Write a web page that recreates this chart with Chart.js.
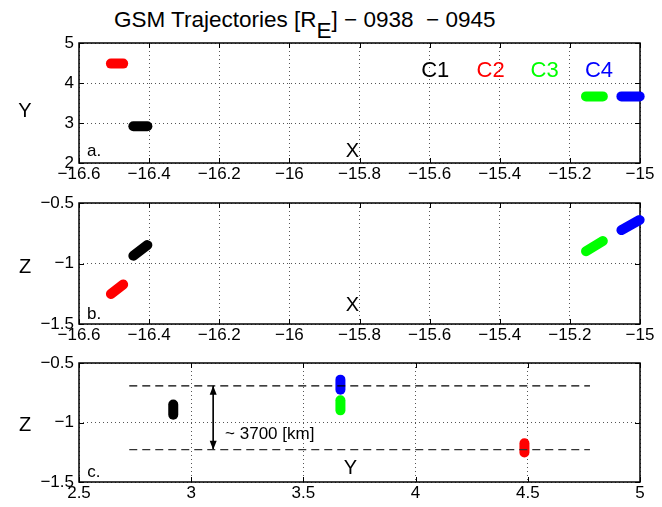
<!DOCTYPE html>
<html>
<head>
<meta charset="utf-8">
<script src="https://cdn.jsdelivr.net/npm/chart.js@4.4.1/dist/chart.umd.min.js"></script>
<style>
  html, body { margin: 0; padding: 0; background: #fff; }
  body { width: 662px; height: 507px; position: relative; overflow: hidden; font-family: "Liberation Sans", Arial, sans-serif; }
  canvas { position: absolute; left: 0; }
  #title { position: absolute; left: 114px; top: 9px; font-size: 22.5px; line-height: 22px; white-space: pre; color: #000; }
  #title sub { font-size: 22.5px; vertical-align: -11px; line-height: 0; }
</style>
</head>
<body>
<div id="title">GSM Trajectories [R<sub>E</sub>] − 0938  − 0945</div>
<canvas id="pa" width="662" height="188" style="top:0px"></canvas>
<canvas id="pb" width="662" height="189" style="top:160px"></canvas>
<canvas id="pc" width="662" height="187" style="top:320px"></canvas>
<script>
// GSM positions [RE], start / end of the 0938-0945 interval
var c1X = [-16.445, -16.405], c1Y = [2.92, 2.92],   c1Z = [-0.935, -0.848];
var c2X = [-16.509, -16.474], c2Y = [4.485, 4.485], c2Z = [-1.252, -1.174];
var c3X = [-15.154, -15.106], c3Y = [3.665, 3.665], c3Z = [-0.898, -0.814];
var c4X = [-15.053, -15.001], c4Y = [3.665, 3.665], c4Z = [-0.724, -0.640];
var names = ['C1', 'C2', 'C3', 'C4'];
var colors = ['#000000', '#ff0000', '#00ff00', '#0000ff'];

// separation guide (panel c)
var sepY = [2.724, 4.777];
var sepZ = [-0.692, -1.228];
var arrowY = 3.098;
var sepText = '~ 3700 [km]';

// axis ranges [min, max, step]
var xRange = [-16.6, -15, 0.2];
var yRange = [2, 5, 1];
var zRange = [-1.5, -0.5, 0.5];
var yRangeC = [2.5, 5, 0.5];

var FONT = '"Liberation Sans", Arial, Helvetica, sans-serif';

function pts(xs, ys) {
    return xs.map(function(x, i){ return {x: x, y: ys[i]}; });
}
function fmt(v) {
    return String(+(+v).toFixed(2)).replace('-', '\u2212');
}
function track(xs, ys, col) {
    return {data: pts(xs, ys), borderColor: col, backgroundColor: col, borderWidth: 10,
            borderCapStyle: 'round', pointRadius: 0, showLine: true, clip: false};
}
function axis(r, pos) {
    return {
        type: 'linear', position: pos, min: r[0], max: r[1],
        grid: {color: '#555', lineWidth: 1, drawTicks: false},
        border: {display: false, dash: [1, 3]},
        ticks: {stepSize: r[2], autoSkip: false, maxRotation: 0, color: '#000',
                font: {family: FONT, size: 17}, padding: pos == 'left' ? 5 : 1,
                callback: function(v){ return fmt(v); }},
        afterFit: function(s){ if (pos == 'left') s.width = 79; else s.height = 25; }
    };
}

// frame, inward tick marks, texts and arrow heads
var marks = {
    id: 'marks',
    beforeDatasetsDraw: function(chart) {
        var ctx = chart.ctx, a = chart.chartArea, sx = chart.scales.x, sy = chart.scales.y;
        ctx.save();
        ctx.strokeStyle = '#000';
        ctx.lineWidth = 1;
        ctx.beginPath();
        sx.ticks.forEach(function(t){
            var p = Math.round(sx.getPixelForValue(t.value)) + 0.5;
            ctx.moveTo(p, a.bottom); ctx.lineTo(p, a.bottom - 5);
            ctx.moveTo(p, a.top); ctx.lineTo(p, a.top + 5);
        });
        sy.ticks.forEach(function(t){
            var p = Math.round(sy.getPixelForValue(t.value)) + 0.5;
            ctx.moveTo(a.left, p); ctx.lineTo(a.left + 5, p);
            ctx.moveTo(a.right, p); ctx.lineTo(a.right - 5, p);
        });
        ctx.stroke();
        ctx.lineWidth = 1.5;
        ctx.strokeRect(a.left, a.top, a.right - a.left, a.bottom - a.top);
        ctx.restore();
    },
    afterDatasetsDraw: function(chart, args, opts) {
        var ctx = chart.ctx, sx = chart.scales.x, sy = chart.scales.y;
        ctx.save();
        (opts.texts || []).forEach(function(t){
            ctx.font = (t.size || 17) + 'px ' + FONT;
            ctx.fillStyle = t.color || '#000';
            ctx.textAlign = t.align || 'center';
            ctx.textBaseline = 'middle';
            var px = t.px !== undefined ? t.px : sx.getPixelForValue(t.x);
            ctx.fillText(t.t, px, sy.getPixelForValue(t.y));
        });
        if (opts.arrow) {
            var x = sx.getPixelForValue(opts.arrow.x);
            var y0 = sy.getPixelForValue(opts.arrow.z[0]);
            var y1 = sy.getPixelForValue(opts.arrow.z[1]);
            ctx.fillStyle = '#000';
            ctx.beginPath();
            ctx.moveTo(x, y0); ctx.lineTo(x - 3.5, y0 + 9); ctx.lineTo(x + 3.5, y0 + 9); ctx.closePath();
            ctx.moveTo(x, y1); ctx.lineTo(x - 3.5, y1 - 9); ctx.lineTo(x + 3.5, y1 - 9); ctx.closePath();
            ctx.fill();
        }
        ctx.restore();
    }
};

function makePanel(id, datasets, xr, yr, texts, arrow) {
    return new Chart(document.getElementById(id), {
        type: 'scatter',
        data: {datasets: datasets},
        options: {
            responsive: false, animation: false, events: [],
            layout: {padding: {top: 43, right: 22, left: 0, bottom: 0}},
            scales: {x: axis(xr, 'bottom'), y: axis(yr, 'left')},
            plugins: {legend: {display: false}, tooltip: {enabled: false},
                      marks: {texts: texts, arrow: arrow}}
        },
        plugins: [marks]
    });
}

var legendX = [-15.584, -15.426, -15.272, -15.117];
var textsA = [
    {t: 'Y', px: 25, y: 3.28, size: 20},
    {t: 'X', x: -15.82, y: 2.30, size: 20},
    {t: 'a.', x: -16.577, y: 2.28, align: 'left'}
];
names.forEach(function(n, i){ textsA.push({t: n, x: legendX[i], y: 4.3, size: 22, color: colors[i]}); });

makePanel('pa', [
    track(c1X, c1Y, colors[0]), track(c2X, c2Y, colors[1]),
    track(c3X, c3Y, colors[2]), track(c4X, c4Y, colors[3])
], xRange, yRange, textsA);

makePanel('pb', [
    track(c1X, c1Z, colors[0]), track(c2X, c2Z, colors[1]),
    track(c3X, c3Z, colors[2]), track(c4X, c4Z, colors[3])
], xRange, zRange, [
    {t: 'Z', px: 25, y: -1.03, size: 20},
    {t: 'X', x: -15.82, y: -1.35, size: 20},
    {t: 'b.', x: -16.577, y: -1.417, align: 'left'}
]);

makePanel('pc', [
    {data: pts(sepY, [sepZ[0], sepZ[0]]), borderColor: '#000', borderWidth: 1.2, borderDash: [8, 5], pointRadius: 0, showLine: true},
    {data: pts(sepY, [sepZ[1], sepZ[1]]), borderColor: '#333', borderWidth: 1.2, borderDash: [8, 5], pointRadius: 0, showLine: true},
    {data: pts([arrowY, arrowY], sepZ), borderColor: '#000', borderWidth: 1, pointRadius: 0, showLine: true},
    track(c1Y, c1Z, colors[0]), track(c2Y, c2Z, colors[1]),
    track(c3Y, c3Z, colors[2]), track(c4Y, c4Z, colors[3])
], yRangeC, zRange, [
    {t: 'Z', px: 25, y: -1.022, size: 20},
    {t: 'Y', x: 3.71, y: -1.383, size: 20},
    {t: 'c.', x: 2.537, y: -1.417, align: 'left'},
    {t: sepText, x: 3.151, y: -1.1025, align: 'left'}
], {x: arrowY, z: sepZ});
</script>
</body>
</html>
